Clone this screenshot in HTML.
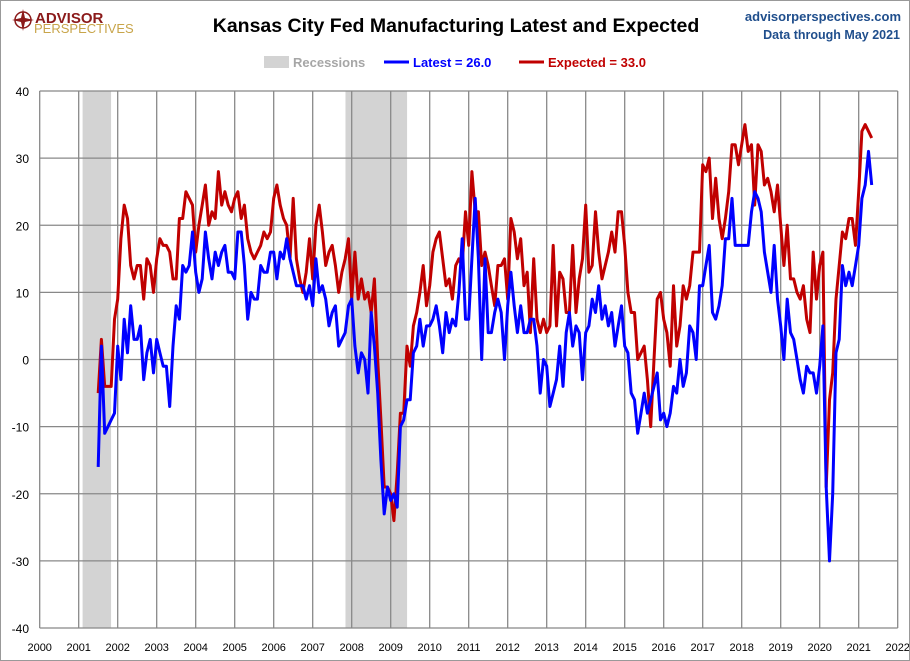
<!DOCTYPE html>
<html><head><meta charset="utf-8">
<style>
body{margin:0;background:#fff;font-family:"Liberation Sans",sans-serif;}
#wrap{position:relative;width:910px;height:661px;box-sizing:border-box;border:1px solid #999;overflow:hidden;}
svg{position:absolute;left:0;top:0;}
</style></head><body>
<div id="wrap">
<svg id="chart" width="910" height="661">
  <g>
    <circle cx="22" cy="19" r="8" fill="none" stroke="#8b1a1a" stroke-width="1.5"/>
    <polygon points="22,8 24,17 33,19 24,21 22,30 20,21 11,19 20,17" fill="#8b1a1a"/>
    <text x="34" y="22" font-size="15" font-weight="bold" fill="#8b1a1a">ADVISOR</text>
    <text x="33" y="32" font-size="13" fill="#c8a54a">PERSPECTIVES</text>
  </g>
  <text x="455" y="31" text-anchor="middle" font-size="19.5" font-weight="bold" fill="#000">Kansas City Fed Manufacturing Latest and Expected</text>
  <text x="900" y="20" text-anchor="end" font-size="13" font-weight="bold" fill="#1f4e8c">advisorperspectives.com</text>
  <text x="899" y="38" text-anchor="end" font-size="12.5" font-weight="bold" fill="#1f4e8c">Data through May 2021</text>
  <g id="legend">
    <rect x="263" y="55" width="25" height="12" fill="#d3d3d3"/>
    <text x="292" y="66" font-size="13" font-weight="bold" fill="#a6a6a6">Recessions</text>
    <line x1="383" y1="61" x2="408" y2="61" stroke="#0000ff" stroke-width="3"/>
    <text x="412" y="66" font-size="13" font-weight="bold" fill="#0000ff">Latest = 26.0</text>
    <line x1="518" y1="61" x2="543" y2="61" stroke="#c00000" stroke-width="3"/>
    <text x="547" y="66" font-size="13" font-weight="bold" fill="#c00000">Expected = 33.0</text>
  </g>
  <g id="plot"></g>
</svg>
</div>
<script>
// Monthly data starting Jul 2001
const startYear = 2001, startMonth = 6;
const latest = [
-16,2,-11,-10,-9,-8,
2,-3,6,1,8,3,3,5,-3,1,3,-2,
3,1,-1,-1,-7,2,8,6,14,13,14,19,
13,10,12,19,15,12,16,14,16,17,13,13,
12,19,19,14,6,10,9,9,14,13,13,16,
16,12,16,15,18,15,13,11,11,11,9,11,
8,15,10,11,9,5,7,8,2,3,4,8,
9,2,-2,1,0,-5,7,2,-5,-15,-23,-19,
-21,-20,-22,-10,-9,-6,-6,1,2,6,2,5,
5,6,8,5,1,7,4,6,5,10,18,6,
6,15,24,15,0,15,4,4,7,9,7,0,
8,13,8,4,8,4,4,6,6,2,-5,0,
-1,-7,-5,-3,2,-4,4,7,2,5,4,-3,
4,5,9,7,11,6,8,5,7,2,5,8,
2,1,-5,-6,-11,-8,-5,-8,-6,-4,-2,-9,
-8,-10,-8,-4,-5,0,-4,-2,5,4,0,11,
11,14,17,7,6,8,11,18,18,24,17,17,
17,17,17,22,25,24,22,16,13,10,17,9,
5,0,9,4,3,0,-3,-5,-1,-2,-2,-5,
-1,5,-19,-30,-20,1,3,14,11,13,11,14,
17,24,26,31,26];
const expected = [
-5,3,-4,-4,-4,6,
9,18,23,21,14,12,14,14,9,15,14,10,
15,18,17,17,16,12,12,21,21,25,24,23,
16,20,23,26,20,22,21,28,23,25,23,22,
24,25,21,23,18,16,15,16,17,19,18,19,
24,26,23,21,20,15,24,15,12,10,13,18,
12,20,23,19,14,16,17,14,10,13,15,18,
9,16,9,12,9,10,7,12,0,-9,-19,-19,
-20,-24,-17,-8,-8,2,-1,5,7,10,14,8,
11,16,18,19,15,11,12,9,14,15,14,22,
17,28,22,22,14,16,14,11,8,14,14,15,
9,21,19,15,18,11,13,4,15,6,4,6,
4,5,17,5,13,12,7,7,17,7,12,15,
23,13,14,22,16,12,14,16,19,16,22,22,
17,10,7,7,0,1,2,-3,-10,0,9,10,
6,4,-1,11,2,5,11,9,11,16,16,16,
29,28,30,21,27,21,18,21,25,32,32,29,
32,35,31,32,23,32,31,26,27,25,22,26,
20,14,20,12,12,10,9,11,6,4,16,9,
14,16,-19,-6,-2,9,14,19,18,21,21,17,
25,34,35,34,33];
const recessionStarts = [2001.1, 2007.84];
const recessionEnds = [2001.83, 2009.42];
const yTicks = [-40,-30,-20,-10,0,10,20,30,40];
const xTicks = [2000,2001,2002,2003,2004,2005,2006,2007,2008,2009,2010,2011,2012,2013,2014,2015,2016,2017,2018,2019,2020,2021,2022];

const L=38.7, R=896.7, T=90, B=627;
const xS = t => L + (t-2000)/(22)*(R-L);
const yS = v => B - (v+40)/80*(B-T);
const NS='http://www.w3.org/2000/svg';
const plot=document.getElementById('plot');
function mk(tag, attrs){const e=document.createElementNS(NS,tag);for(const k in attrs)e.setAttribute(k,attrs[k]);plot.appendChild(e);return e;}

recessionStarts.forEach((s,i)=>{
  const r=mk('rect',{x:xS(s),y:T,width:xS(recessionEnds[i])-xS(s),height:B-T,fill:'#d3d3d3'});
  
  
});
xTicks.forEach(t=>{
  const l=mk('line',{x1:xS(t),x2:xS(t),y1:T,y2:B,stroke:'#888','stroke-width':1.3});
  
  
  const tx=mk('text',{x:xS(t),y:650,'text-anchor':'middle','font-size':11,fill:'#000'});
  tx.textContent=t;
  
  
});
yTicks.forEach(v=>{
  const l=mk('line',{x1:L,x2:R,y1:yS(v),y2:yS(v),stroke:'#888','stroke-width':1.3});
  
  
  const tx=mk('text',{x:28,y:yS(v)+5,'text-anchor':'end','font-size':12,fill:'#000'});
  tx.textContent=v;
  
  
});
function series(arr,color,name){
  const pts=arr.map((v,i)=>{const t=startYear+(startMonth+i)/12;return xS(t).toFixed(1)+','+yS(v).toFixed(1);}).join(' ');
  const p=mk('polyline',{points:pts,fill:'none',stroke:color,'stroke-width':3,'stroke-linejoin':'round'});
  
  
}
series(expected,'#c00000','expected-line');
series(latest,'#0000ff','latest-line');
</script>
</body></html>
